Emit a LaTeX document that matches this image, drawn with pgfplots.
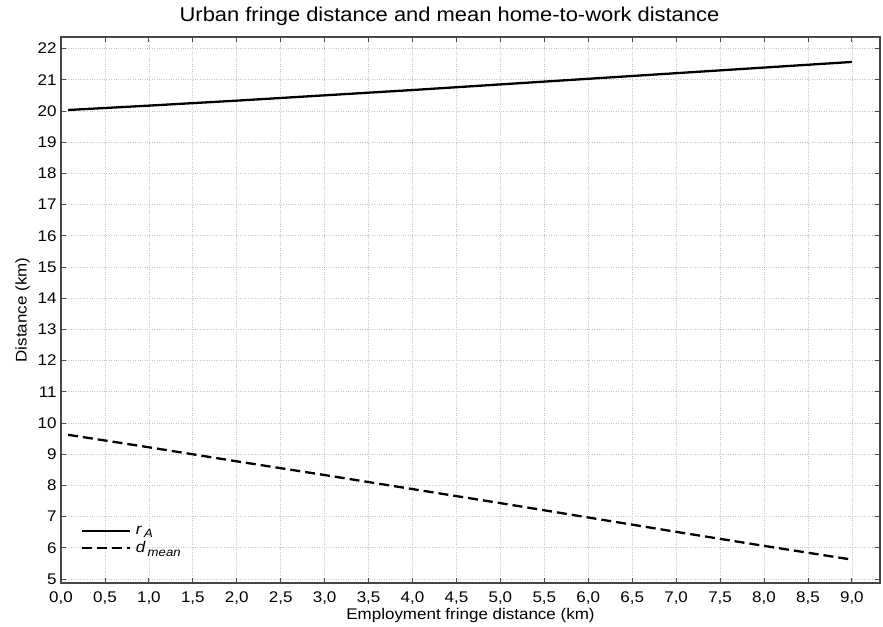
\documentclass[border=0pt]{standalone}
\usepackage{pgfplots}
\pgfplotsset{compat=1.18}
\usepackage{fontspec}
\setmainfont{Liberation Sans}[FakeStretch=1.1]
\begin{document}
\begin{tikzpicture}
\useasboundingbox (0,0) rectangle (883bp,627bp);
\begin{axis}[
  at={(61bp,44bp)}, anchor=south west,
  scale only axis, width=819bp, height=546bp,
  xmin=0, xmax=9.32, ymin=4.87, ymax=22.37,
  xtick={0,0.5,...,9.0}, ytick={5,6,...,22},
  tick align=inside, major tick length=5bp,
  tick style={gray!60!black, line width=0.8pt},
  axis line style={gray!55!black, line width=1.3pt},
  grid=major,
  major grid style={gray!45, dotted, line width=0.7pt},
  /pgf/number format/.cd, assume math mode=true, use comma, fixed, fixed zerofill, precision=1,
  /pgfplots/.cd,
  yticklabel style={/pgf/number format/precision=0, /pgf/number format/fixed zerofill=false, xshift=-1bp},
  ticklabel style={font=\fontsize{15.5}{17}\selectfont},
  xticklabel style={yshift=-5bp},
  title={Urban fringe distance and mean home-to-work distance},
  title style={font=\fontsize{20}{22}\selectfont, yshift=2bp, xshift=-21bp},
  xlabel={Employment fringe distance (km)},
  ylabel={Distance (km)},
  label style={font=\fontsize{15.5}{17}\selectfont},
  xlabel style={yshift=3bp},
  ylabel style={yshift=1bp},
  legend style={draw=none, fill=none, at={(0.02,0.045)}, anchor=south west,
    font=\fontsize{15.5}{17}\selectfont, row sep=2bp},
  legend cell align=left,
  legend image code/.code={\draw[#1] plot coordinates {(0bp,0bp) (24bp,0bp) (48bp,0bp)};},
  legend image post style={line width=2.3pt},
]
\addplot[black, line width=2.3pt] coordinates {
 (0.08,20.03) (1.0,20.17) (2.0,20.33) (3.0,20.50) (4.0,20.67) (5.0,20.85) (6.0,21.03) (7.0,21.21) (8.0,21.39) (9.0,21.57)};
\addlegendentry{\hspace{3bp}\textit{r}\raisebox{-0.4ex}{\fontsize{12}{13}\selectfont\,\textit{A}}}
\addplot[black, line width=2.3pt, dash pattern=on 10bp off 5bp] coordinates {
 (0.08,9.62) (1.0,9.22) (2.0,8.77) (3.0,8.33) (4.0,7.88) (5.0,7.43) (6.0,6.97) (7.0,6.51) (8.0,6.06) (9.0,5.62)};
\addlegendentry{\hspace{3bp}\textit{d}\raisebox{-0.4ex}{\fontsize{12}{13}\selectfont\,\textit{mean}}}
\end{axis}
\end{tikzpicture}
\end{document}
